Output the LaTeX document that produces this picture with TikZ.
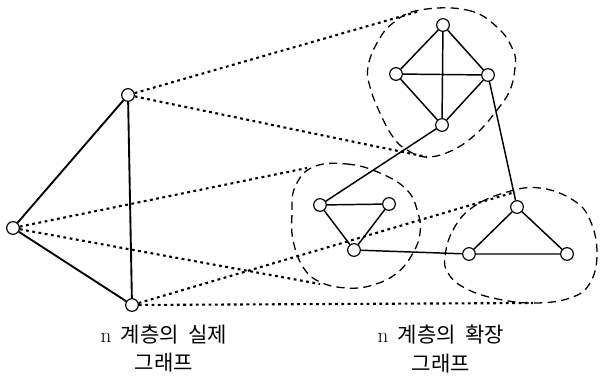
\documentclass[tikz,border=0pt]{standalone}
\usepackage{fontspec}
\newfontfamily\kr{Noto Sans CJK KR}
\usetikzlibrary{positioning}

\tikzset{
  vtx/.style={circle, draw, fill=white, line width=1pt, inner sep=0pt, minimum size=0.38cm},
  link/.style={line width=1.25pt},
  proj/.style={line width=1.8pt, dash pattern=on 2.4pt off 3pt},
  cluster/.style={line width=1.1pt, dash pattern=on 7pt off 4.5pt},
  caption/.style={align=center, font=\fontsize{18}{24}\selectfont}
}

\begin{document}
\begin{tikzpicture}[x=0.03cm,y=-0.03cm]
\useasboundingbox (0,0) rectangle (600,387);

% clusters of the extended graph
\draw[cluster] plot[smooth cycle, tension=0.7] coordinates {
  (420,10) (467,10) (497,27) (513,50) (515,67) (510,90) (497,110) (477,133)
  (453,150) (427,157) (407,150) (393,137) (380,113) (370,87) (368,67) (377,43) (393,23)};
\draw[cluster] plot[smooth cycle, tension=0.7] coordinates {
  (313,167) (347,164) (380,173) (407,190) (418,213) (420,233) (413,253) (397,273)
  (373,285) (347,288) (320,282) (303,267) (293,240) (292,213) (295,187)};
\draw[cluster] plot[smooth cycle, tension=0.7] coordinates {
  (445,257) (453,230) (473,207) (507,192) (540,188) (573,200) (590,220) (597,253)
  (590,283) (570,298) (533,303) (493,298) (463,287) (448,273)};

% where the projections touch the clusters
\coordinate (topIn) at (420,11);
\coordinate (topOut) at (427,157);
\coordinate (midIn) at (307,168);
\coordinate (midOut) at (320,284);
\coordinate (lowIn) at (515,192);
\coordinate (lowOut) at (533,303);

% real graph
\node[vtx] (a) at (128,95) {};
\node[vtx] (b) at (13,228) {};
\node[vtx] (c) at (132,305) {};

% extended graph
\node[vtx] (t1) at (443,25) {};
\node[vtx] (t2) at (396,74) {};
\node[vtx] (t3) at (488,75) {};
\node[vtx] (t4) at (442,125) {};
\node[vtx] (l1) at (320,205) {};
\node[vtx] (l2) at (389,204) {};
\node[vtx] (l3) at (354,250) {};
\node[vtx] (r1) at (517,207) {};
\node[vtx] (r2) at (469,254) {};
\node[vtx] (r3) at (567,254) {};

\draw[proj] (a) -- (topIn);
\draw[proj] (a) -- (topOut);
\draw[proj] (b) -- (midIn);
\draw[proj] (b) -- (midOut);
\draw[proj] (c) -- (lowIn);
\draw[proj] (c) -- (lowOut);

\draw[link, line width=1.6pt] (a) -- (b) (a) -- (c) (b) -- (c);
\draw[link] (t1) -- (t2) (t1) -- (t3) (t1) -- (t4) (t2) -- (t3) (t2) -- (t4) (t3) -- (t4);
\draw[link] (l1) -- (l2) (l1) -- (l3) (l2) -- (l3);
\draw[link] (r1) -- (r2) (r1) -- (r3) (r2) -- (r3);
\draw[link] (t4) -- (l1) (t3) -- (r1) (l3) -- (r2);

\node[caption] (realcap) at (164,349) {n\hspace{0.45em}{\kr 계층의\hspace{0.45em}실제}\\{\kr 그래프}};
\node[caption] (extcap) at (441,349) {n\hspace{0.45em}{\kr 계층의\hspace{0.45em}확장}\\{\kr 그래프}};
\end{tikzpicture}
\end{document}
